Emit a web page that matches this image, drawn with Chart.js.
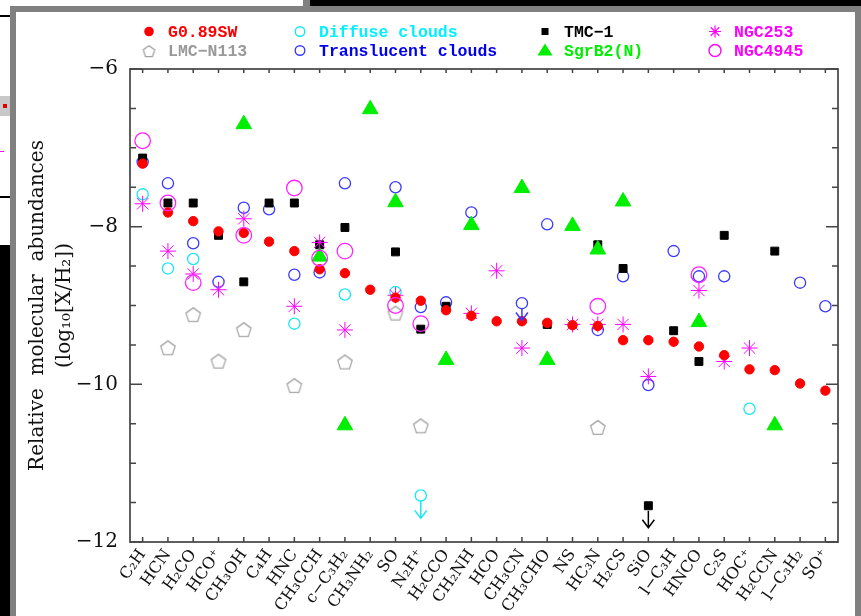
<!DOCTYPE html>
<html lang="en">
<head>
  <meta charset="UTF-8" />
  <title>Relative molecular abundances</title>
  <script src="https://cdn.jsdelivr.net/npm/chart.js@4.4.0/dist/chart.umd.min.js"></script>
  <style>
    html, body { margin: 0; padding: 0; }
    body { width: 861px; height: 616px; background: #000; position: relative; overflow: hidden; }
    .bg { position: absolute; }
    #chart { position: absolute; left: 0; top: 0; }
  </style>
</head>
<body>
<!-- window bits behind the plot -->
<div class="bg" style="left:0;top:0;width:303px;height:6px;background:#fff"></div>
<div class="bg" style="left:303px;top:0;width:7px;height:6px;background:#808080"></div>
<div class="bg" style="left:0;top:0;width:10px;height:245px;background:#fff"></div>
<div class="bg" style="left:0;top:15px;width:10px;height:2px;background:#000"></div>
<div class="bg" style="left:0;top:96px;width:10px;height:20px;background:#c8c8c8"></div>
<div class="bg" style="left:3px;top:104px;width:4px;height:4px;background:#d00"></div>
<div class="bg" style="left:0;top:151px;width:4px;height:1px;background:#f0f"></div>
<div class="bg" style="left:0;top:196px;width:10px;height:2px;background:#000"></div>
<div class="bg" style="left:10px;top:6px;width:851px;height:610px;background:#808080"></div>
<div class="bg" style="left:16px;top:12px;width:839px;height:604px;background:#fff"></div>
<canvas id="chart" width="861" height="616"></canvas>

<script>
const molecules = ['C₂H', 'HCN', 'H₂CO', 'HCO⁺', 'CH₃OH', 'C₄H', 'HNC', 'CH₃CCH', 'c−C₃H₂', 'CH₃NH₂',
  'SO', 'N₂H⁺', 'H₂CCO', 'CH₂NH', 'HCO', 'CH₃CN', 'CH₃CHO', 'NS', 'HC₃N', 'H₂CS',
  'SiO', 'l−C₃H', 'HNCO', 'C₂S', 'HOC⁺', 'H₂CCN', 'l−C₃H₂', 'SO⁺'];

const _ = null;
const g089sw = [-7.20, -7.82, -7.93, -8.06, -8.08, -8.19, -8.31, -8.54, -8.59, -8.80,
  -8.90, -8.94, -9.06, -9.13, -9.20, -9.20, -9.22, -9.25, -9.26, -9.44,
  -9.44, -9.46, -9.52, -9.63, -9.81, -9.82, -9.99, -10.08];
const diffuse = [-7.59, -8.53, -8.41, _, _, _, -9.23, _, -8.86, _,
  -8.83, -11.41, _, _, _, _, _, _, _, _,
  _, _, _, _, -10.31, _, _, _];
const translucent = [-7.18, -7.45, -8.21, -8.70, -7.76, -7.78, -8.61, -8.58, -7.45, _,
  -7.50, -9.02, -8.96, -7.82, _, -8.97, -7.97, _, -9.31, -8.63,
  -10.01, -8.31, -8.63, -8.63, _, _, -8.71, -9.01];
const tmc1 = [-7.13, -7.70, -7.70, -8.11, -8.70, -7.70, -7.70, -8.23, -8.01, _,
  -8.32, -9.30, -9.01, _, _, _, -9.24, _, -8.23, -8.53,
  -11.54, -9.32, -9.71, -8.11, _, -8.31, _, _];
const sgrb2 = [_, _, _, _, -6.70, _, _, -8.38, -10.52, -6.51,
  -7.69, _, -9.69, -7.98, _, -7.51, -9.69, -7.99, -8.29, -7.68,
  _, _, -9.21, _, _, -10.52, _, _];
const lmcn113 = [_, -9.53, -9.11, -9.70, -9.30, _, -10.01, _, -9.71, _,
  -9.09, -10.52, _, _, _, _, _, _, -10.54, _,
  _, _, _, _, _, _, _, _];
const ngc253 = [-7.71, -8.31, -8.60, -8.80, -7.90, _, -9.01, -8.20, -9.31, _,
  -8.87, _, _, -9.10, -8.56, -9.54, _, -9.24, -9.24, -9.24,
  -9.90, _, -8.81, -9.71, -9.54, _, _, _];
const ngc4945 = [-6.91, -7.70, -8.71, _, -8.11, _, -7.51, -8.40, -8.31, _,
  -9.00, -9.23, _, _, _, _, _, _, -9.01, _,
  _, _, -8.61, _, _, _, _, _];

// upper limits: arrow from the point down to this value
const upperLimits = [
  { set: 'Diffuse clouds', index: 11, to: -11.70 },
  { set: 'Translucent clouds', index: 15, to: -9.19 },
  { set: 'TMC−1', index: 20, to: -11.82 }
];

const yMajor = [-12, -10, -8, -6];

function makePentagon(R, color, lw) {
  const size = Math.ceil(R * 2 + lw * 2 + 2);
  const c = document.createElement('canvas');
  c.width = size; c.height = size;
  const ctx = c.getContext('2d');
  ctx.strokeStyle = color;
  ctx.lineWidth = lw;
  ctx.beginPath();
  for (let k = 0; k < 5; k++) {
    const a = -Math.PI / 2 + k * 2 * Math.PI / 5;
    const px = size / 2 + R * Math.cos(a);
    const py = size / 2 + 1.2 + R * Math.sin(a);
    k === 0 ? ctx.moveTo(px, py) : ctx.lineTo(px, py);
  }
  ctx.closePath();
  ctx.stroke();
  return c;
}

const pentagon = makePentagon(7.6, '#a6a6a6', 1.3);
const pentagonSmall = makePentagon(6, '#a0a0a0', 1.3);

function series(label, data, opts) {
  return Object.assign({
    label, data,
    showLine: false,
    pointBorderWidth: 1.3,
    pointHoverRadius: 0
  }, opts);
}

const datasets = [
  series('LMC−N113', lmcn113, { pointStyle: pentagon, pointRadius: 8, order: 8 }),
  series('Translucent clouds', translucent, { pointStyle: 'circle', pointRadius: 5.6, pointBackgroundColor: 'rgba(0,0,0,0)', pointBorderColor: '#3a3aff', order: 7 }),
  series('Diffuse clouds', diffuse, { pointStyle: 'circle', pointRadius: 5.6, pointBackgroundColor: 'rgba(0,0,0,0)', pointBorderColor: '#18e6f4', order: 6 }),
  series('TMC−1', tmc1, { pointStyle: 'rect', pointRadius: 5.6, pointBackgroundColor: '#000', pointBorderColor: '#000', pointBorderWidth: 1, order: 5 }),
  series('SgrB2(N)', sgrb2, { pointStyle: 'triangle', pointRadius: 9, pointBackgroundColor: '#00ee00', pointBorderColor: '#00ee00', pointBorderWidth: 1, order: 4 }),
  series('NGC253', ngc253, { pointStyle: 'star', pointRadius: 8, pointBorderColor: '#ff00ff', pointBackgroundColor: '#ff00ff', pointBorderWidth: 1, order: 3 }),
  series('G0.89SW', g089sw, { pointStyle: 'circle', pointRadius: 4.7, pointBackgroundColor: '#ff0000', pointBorderColor: '#ff0000', pointBorderWidth: 1, order: 2 }),
  series('NGC4945', ngc4945, { pointStyle: 'circle', pointRadius: 7.8, pointBackgroundColor: 'rgba(0,0,0,0)', pointBorderColor: '#ff22ff', order: 1 })
];

// frame with inward ticks on all four sides
const frameTicks = {
  id: 'frameTicks',
  afterDraw(chart) {
    const { ctx, chartArea: a, scales: { x, y } } = chart;
    ctx.save();
    ctx.strokeStyle = '#444';
    ctx.lineWidth = 1.7;
    ctx.strokeRect(a.left, a.top, a.right - a.left, a.bottom - a.top);
    ctx.lineWidth = 1.5;
    ctx.beginPath();
    for (let v = -12; v <= -6; v += 0.5) {
      const py = y.getPixelForValue(v);
      const len = yMajor.includes(v) ? 12 : 6;
      ctx.moveTo(a.left, py); ctx.lineTo(a.left + len, py);
      ctx.moveTo(a.right, py); ctx.lineTo(a.right - len, py);
    }
    molecules.forEach((m, i) => {
      const px = x.getPixelForValue(i);
      ctx.moveTo(px, a.top); ctx.lineTo(px, a.top + 4);
      ctx.moveTo(px, a.bottom); ctx.lineTo(px, a.bottom - 5);
    });
    ctx.stroke();
    ctx.restore();
  }
};

const limitArrows = {
  id: 'limitArrows',
  afterDatasetsDraw(chart) {
    const { ctx, scales: { x, y } } = chart;
    ctx.save();
    ctx.lineWidth = 1.5;
    upperLimits.forEach(u => {
      const ds = chart.data.datasets.find(d => d.label === u.set);
      const px = x.getPixelForValue(u.index);
      const y0 = y.getPixelForValue(ds.data[u.index]) + 5;
      const y1 = y.getPixelForValue(u.to);
      ctx.strokeStyle = ds.pointBorderColor;
      ctx.beginPath();
      ctx.moveTo(px, y0); ctx.lineTo(px, y1);
      ctx.moveTo(px - 6, y1 - 8); ctx.lineTo(px, y1); ctx.lineTo(px + 6, y1 - 8);
      ctx.stroke();
    });
    ctx.restore();
  }
};

// legend laid out in 4 columns x 2 rows
const legendItems = [
  { label: 'G0.89SW', color: '#ff0000', mark: 'dot', col: 0, row: 0 },
  { label: 'LMC−N113', color: '#999999', mark: 'pent', col: 0, row: 1 },
  { label: 'Diffuse clouds', color: '#00f0ff', mark: 'ring', col: 1, row: 0 },
  { label: 'Translucent clouds', color: '#0000ee', mark: 'ring', col: 1, row: 1 },
  { label: 'TMC−1', color: '#000000', mark: 'square', col: 2, row: 0 },
  { label: 'SgrB2(N)', color: '#00ee00', mark: 'tri', col: 2, row: 1 },
  { label: 'NGC253', color: '#ff00ff', mark: 'star', col: 3, row: 0 },
  { label: 'NGC4945', color: '#ff00ff', mark: 'bigring', col: 3, row: 1 }
];
const legendCols = [149, 300, 545, 715];
const legendRows = [31.5, 50.5];

const topLegend = {
  id: 'topLegend',
  afterDraw(chart) {
    const ctx = chart.ctx;
    ctx.save();
    ctx.font = 'bold 16.5px "Liberation Mono", monospace';
    ctx.textBaseline = 'middle';
    legendItems.forEach(it => {
      const mx = legendCols[it.col], my = legendRows[it.row];
      ctx.strokeStyle = it.color;
      ctx.fillStyle = it.color;
      ctx.lineWidth = 1.4;
      ctx.beginPath();
      if (it.mark === 'dot') { ctx.arc(mx, my, 4.8, 0, 2 * Math.PI); ctx.fill(); }
      else if (it.mark === 'ring') { ctx.strokeStyle = it.color === '#0000ee' ? '#3a3aff' : '#18e6f4'; ctx.arc(mx, my, 4.8, 0, 2 * Math.PI); ctx.stroke(); }
      else if (it.mark === 'bigring') { ctx.arc(mx, my, 6, 0, 2 * Math.PI); ctx.stroke(); }
      else if (it.mark === 'square') { ctx.fillRect(mx - 3.5, my - 3.5, 7, 7); }
      else if (it.mark === 'tri') { ctx.moveTo(mx, my - 7); ctx.lineTo(mx + 7.5, my + 5); ctx.lineTo(mx - 7.5, my + 5); ctx.closePath(); ctx.fill(); }
      else if (it.mark === 'star') {
        ctx.lineWidth = 1.2;
        for (let k = 0; k < 4; k++) {
          const a = k * Math.PI / 4;
          ctx.moveTo(mx - 6 * Math.cos(a), my - 6 * Math.sin(a));
          ctx.lineTo(mx + 6 * Math.cos(a), my + 6 * Math.sin(a));
        }
        ctx.stroke();
      }
      else if (it.mark === 'pent') { ctx.drawImage(pentagonSmall, mx - pentagonSmall.width / 2, my - pentagonSmall.height / 2); }
      ctx.fillStyle = it.color;
      ctx.fillText(it.label, mx + 19, my + 1);
    });
    ctx.restore();
  }
};

new Chart(document.getElementById('chart').getContext('2d'), {
  type: 'line',
  data: { labels: molecules, datasets },
  options: {
    responsive: false,
    animation: false,
    events: [],
    layout: { padding: { top: 69, right: 23, left: 0, bottom: 0 } },
    plugins: { legend: { display: false }, tooltip: { enabled: false } },
    scales: {
      x: {
        type: 'category',
        offset: true,
        grid: { display: false, drawTicks: false },
        border: { display: false },
        ticks: {
          autoSkip: false, minRotation: 55, maxRotation: 55, padding: 4,
          color: '#111', font: { family: 'DejaVu Serif', size: 16 }
        },
        afterFit: s => { s.height = 74; }
      },
      y: {
        min: -12, max: -6,
        grid: { display: false, drawTicks: false },
        border: { display: false },
        ticks: {
          stepSize: 0.5, padding: 12, color: '#111',
          font: { family: 'DejaVu Serif', size: 20 },
          callback: v => (yMajor.includes(v) ? '−' + Math.abs(v) : '')
        },
        title: {
          display: true,
          text: ['Relative  molecular  abundances', '(log₁₀[X/H₂])'],
          color: '#111',
          font: { family: 'DejaVu Serif', size: 20, lineHeight: 1.35 },
          padding: { top: 24, bottom: 0 }
        },
        afterFit: s => { s.width = 130; }
      }
    }
  },
  plugins: [frameTicks, limitArrows, topLegend]
});
</script>
</body>
</html>
